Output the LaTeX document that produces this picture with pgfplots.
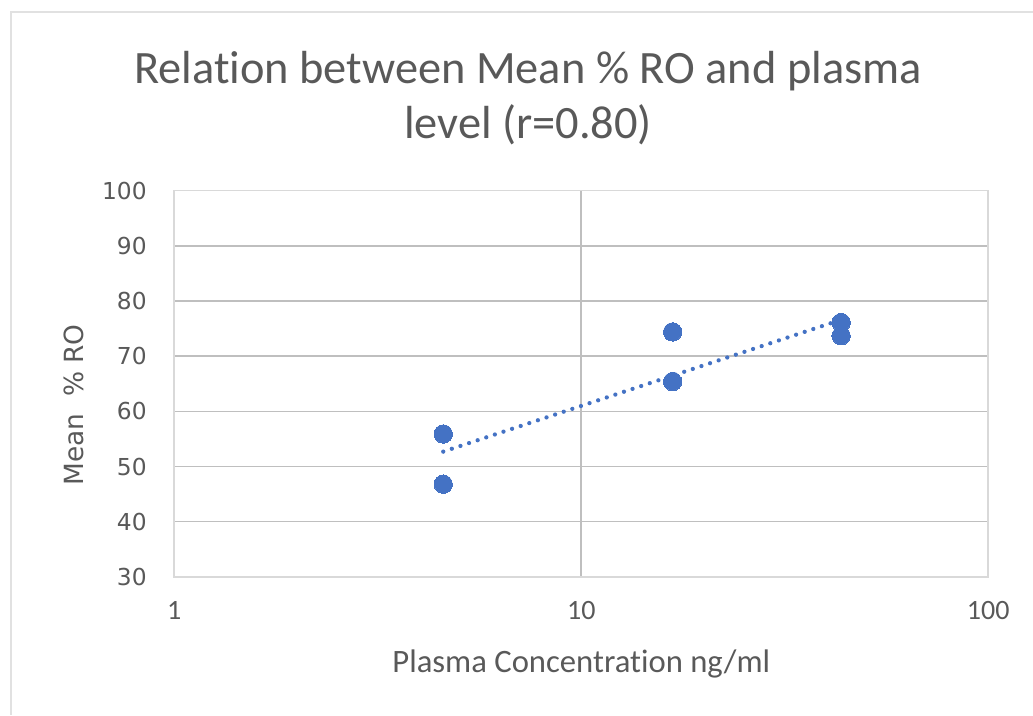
\documentclass[border=0pt]{standalone}
\usepackage{pgfplots}
\pgfplotsset{compat=1.18}
\usepackage{fontspec}
\setmainfont{Carlito}[Ligatures=NoCommon]
\newfontfamily\dejavu{DejaVu Sans}
\definecolor{txt}{HTML}{595959}
\definecolor{grid}{HTML}{D9D9D9}
\definecolor{pts}{HTML}{4472C4}
\begin{document}
\begin{tikzpicture}
\path[use as bounding box] (0,0) rectangle (774.75pt,536.25pt);
\draw[grid!80, line width=1.5pt] (7.9pt,0) -- (7.9pt,527.25pt) -- (774.75pt,527.25pt);
\node[anchor=base, text=txt, font=\fontsize{34.8}{40}\selectfont, inner sep=0pt] at (396pt,473.25pt) {Relation between Mean \% RO and plasma};
\node[anchor=base, text=txt, font=\fontsize{34.8}{40}\selectfont, inner sep=0pt] at (396pt,432pt) {level (r=0.80)};
\node[anchor=base, text=txt, font=\fontsize{24.5}{28}\selectfont, inner sep=0pt] at (436pt,32.25pt) {Plasma Concentration ng/ml};
\node[anchor=base, rotate=90, text=txt, font=\dejavu\fontsize{19.8}{24}\selectfont, inner sep=0pt] at (62.6pt,232.5pt) {Mean\ \ \% RO};
\begin{axis}[
  at={(130.7pt,103.6pt)}, anchor=origin,
  scale only axis, width=610.5pt, height=289.65pt,
  xmode=log, xmin=1, xmax=100, ymin=30, ymax=100,
  xtick={1,10,100}, xticklabels={1,10,100},
  ytick={30,40,...,100},
  xminorticks=false,
  major tick length=0pt,
  grid=major,
  major grid style={grid, line width=1.2pt},
  axis line style={grid, line width=1.2pt},
  /pgf/number format/assume math mode=true,
  xticklabel style={anchor=base, inner sep=0pt, yshift=-32.25pt, text=txt, font=\fontsize{21}{25}\selectfont},
  yticklabel style={anchor=east, inner sep=0pt, xshift=-20.5pt, text=txt, font=\dejavu\fontsize{17.5}{21}\selectfont},
  clip=false,
]
\addplot[pts, line width=3.2pt, line cap=round, dash pattern=on 0pt off 6.8pt] coordinates {(4.58,52.7) (43.5,76.6)};
\addplot[pts, only marks, mark=*, mark size=6.9pt, mark options={solid, fill=pts, draw=pts, line width=0pt}] coordinates {
(4.58,55.9) (4.58,46.8) (16.77,74.4) (16.77,65.4) (43.5,76.1) (43.5,73.7)};
\end{axis}
\end{tikzpicture}
\end{document}
